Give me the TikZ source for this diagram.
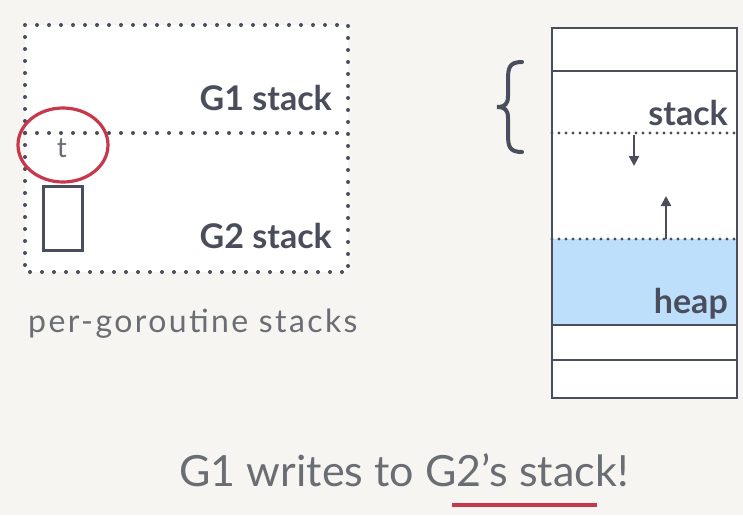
\documentclass[tikz,border=0pt]{standalone}
\usepackage{fontspec}
\setmainfont{Lato}
\newfontfamily\spaced[LetterSpace=7.5]{Lato}
\usetikzlibrary{arrows.meta}
\definecolor{bg}{HTML}{F7F5F1}
\definecolor{ink}{HTML}{4A4E5C}
\definecolor{txt}{HTML}{6A6D73}
\definecolor{redc}{HTML}{C8374A}
\definecolor{heapc}{HTML}{BDDFFB}
\tikzset{
  dotbig/.style={draw=ink, line width=4pt, line cap=round, dash pattern=on 0pt off 12pt},
  dotsmall/.style={draw=ink, line width=3.4pt, line cap=round, dash pattern=on 0pt off 7pt},
  solidline/.style={draw=ink, line width=2.6pt},
  lbl/.style={text=ink, font=\bfseries\fontsize{34}{34}\selectfont, anchor=base east, inner sep=0pt},
  arr/.style={draw=ink, line width=2.2pt, -{Triangle[length=10pt,width=10pt]}}
}
\begin{document}
\begin{tikzpicture}[x=1pt,y=-1pt]
\fill[bg] (0,0) rectangle (743,515);
\useasboundingbox (0,0) rectangle (743,515);
% left dotted box
\fill[white] (25,25) rectangle (348,272);
\draw[dotbig] (25,25) rectangle (348,272);
\draw[dotbig] (25,133) -- (348,133);
\node[lbl] (g1) at (332,110) {G1 stack};
\node[lbl] (g2) at (332,248) {G2 stack};
\node[text=txt, font=\fontsize{28}{28}\selectfont, inner sep=0pt, anchor=base] (t) at (62,157) {t};
\draw[redc, line width=3.2pt] (63,145) ellipse [x radius=45, y radius=37];
\draw[solidline, line width=3pt] (43,186) rectangle (82,250);
\node[text=txt, font=\spaced\fontsize{32}{32}\selectfont, inner sep=0pt, anchor=base west] (per) at (28,332) {per-goroutine stacks};
% right memory column
\fill[white] (552,28) rectangle (737,398);
\fill[heapc] (552,239) rectangle (737,325);
\draw[dotsmall] (552,133) -- (737,133);
\draw[dotsmall] (552,239) -- (737,239);
\draw[solidline] (552,71) -- (737,71);
\draw[solidline] (552,325) -- (737,325);
\draw[solidline] (552,360) -- (737,360);
\draw[solidline] (552,28) rectangle (737,398);
\node[lbl] (stk) at (728,125) {stack};
\node[lbl] (hp) at (728,313) {heap};
\coordinate (a1s) at (634,135);
\coordinate (a1e) at (634,166);
\coordinate (a2s) at (666,239);
\coordinate (a2e) at (666,196);
\draw[arr] (a1s) -- (a1e);
\draw[arr] (a2s) -- (a2e);
% brace
\draw[ink, line width=4pt, line cap=round]
  (522,62) .. controls (509,62) and (508,68) .. (508,80)
  -- (508,96) .. controls (508,104) and (505,107) .. (497,107)
  .. controls (505,107) and (508,110) .. (508,118)
  -- (508,134) .. controls (508,146) and (509,152) .. (522,152);
% bottom caption
\node[text=txt, font=\fontsize{43}{43}\selectfont, inner sep=0pt, anchor=base] (cap) at (404,486) {G1 writes to G2’s stack!};
\coordinate (u1) at (452,505);
\coordinate (u2) at (597,505);
\draw[redc, line width=3.4pt] (u1) -- (u2);
\end{tikzpicture}
\end{document}
